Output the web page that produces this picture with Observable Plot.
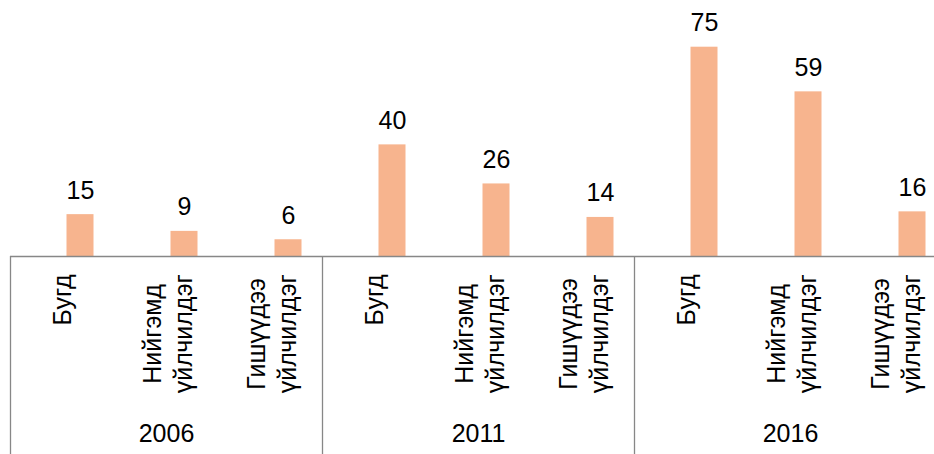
<!DOCTYPE html>
<html><head><meta charset="utf-8">
<script src="https://cdn.jsdelivr.net/npm/d3@7"></script>
<script src="https://cdn.jsdelivr.net/npm/@observablehq/plot@0.6"></script>
<style>
html,body{margin:0;padding:0;background:#fff;overflow:hidden;width:934px;height:454px}
</style></head><body><div id="chart"></div>
<script>
const years = ["2006", "2011", "2016"];
const categories = ["Бугд", "Нийгэмд\nүйлчилдэг", "Гишүүдээ\nүйлчилдэг"];
const values2006 = [15, 9, 6];
const values2011 = [40, 26, 14];
const values2016 = [75, 59, 16];
const seriesValues = [values2006, values2011, values2016];

const rows = years.flatMap((yr, gi) => categories.map((c, ci) => ({
  key: yr + "|" + ci, year: yr, cat: c, value: seriesValues[gi][ci], first: ci === 0, mid: ci === 1
})));

const FONT = "'Liberation Sans', Arial, sans-serif";
const FS = 25;
const ctx = document.createElement("canvas").getContext("2d");
ctx.font = `${FS}px 'Liberation Sans'`;
const maxLen = s => Math.max(...s.split("\n").map(l => ctx.measureText(l).width));

const labelMarks = rows.map(r => Plot.text([r], {
  x: "key", text: "cat", frameAnchor: "top", rotate: -90,
  textAnchor: "middle", lineAnchor: "middle", lineHeight: 1.24,
  dx: r.cat.includes("\n") ? -18 : -19.6, dy: 18 + maxLen(r.cat) / 2,
  fontSize: FS, fill: "#000"
}));

const chart = Plot.plot({
  width: 934, height: 454,
  marginTop: 256, marginBottom: 0, marginLeft: 10, marginRight: 0,
  style: {fontFamily: FONT, fontSize: "25px", background: "#fff", color: "#000", overflow: "hidden"},
  x: {type: "band", domain: rows.map(r => r.key), range: [28, 964], padding: 0, axis: null},
  y: {domain: [0, 75], range: [256, 46.7], axis: null},
  marks: [
    Plot.barY(rows, {x: "key", y: "value", fill: "#F7B48E", insetLeft: 38.5, insetRight: 38.5}),
    Plot.ruleY([0], {stroke: "#878787", strokeWidth: 1.3}),
    Plot.ruleX(rows.filter(r => r.first), {x: "key", dx: -70, stroke: "#878787", strokeWidth: 1.3}),
    Plot.text(rows, {x: "key", y: "value", text: d => String(d.value), lineAnchor: "bottom", dy: -16, fontSize: FS, fill: "#000"}),
    ...labelMarks,
    Plot.text(rows.filter(r => r.mid), {x: "key", text: "year", frameAnchor: "bottom", dx: -18, dy: -12.6, fontSize: FS, fill: "#000"})
  ]
});
document.getElementById("chart").appendChild(chart);
</script></body></html>
